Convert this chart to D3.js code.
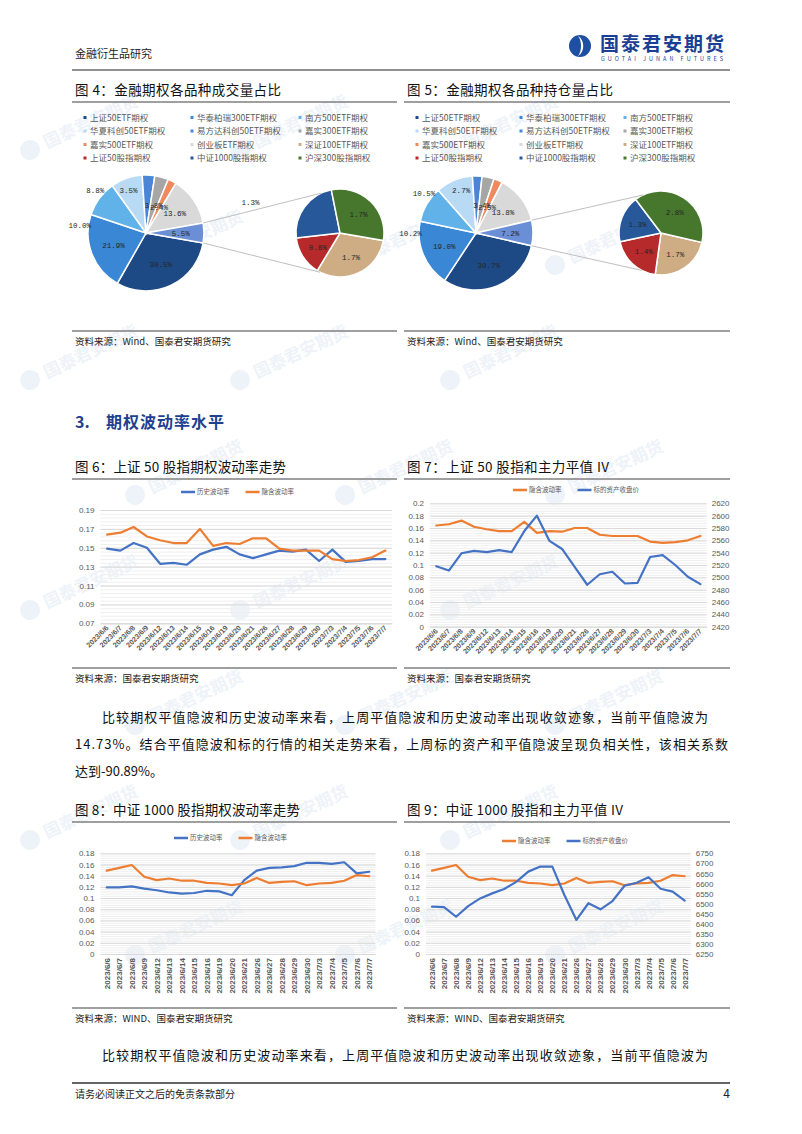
<!DOCTYPE html>
<html>
<head>
<meta charset="utf-8">
<style>
  body { margin: 0; background: #fff; }
  text { font-family: "Noto Sans CJK SC", "Liberation Sans", sans-serif; }
  .tick text { font-family: "Liberation Sans", "Noto Sans CJK SC", sans-serif; fill: #595959; }
  .mono { font-family: "Liberation Mono", "DejaVu Sans Mono", monospace; }
</style>
</head>
<body>
<svg id="page"></svg>
<script src="https://d3js.org/d3.v7.min.js"></script>
<script>

// ---- data ----
var pieNames = ["上证50ETF期权", "华泰柏瑞300ETF期权", "南方500ETF期权",
  "华夏科创50ETF期权", "易方达科创50ETF期权", "嘉实300ETF期权",
  "嘉实500ETF期权", "创业板ETF期权", "深证100ETF期权",
  "上证50股指期权", "中证1000股指期权", "沪深300股指期权"];
var volumeShare = [30.5, 21.9, 10.0, 8.8, 3.5, 3.8, 2.4, 13.6, 1.7, 0.8, 1.3, 1.7];
var holdShare   = [30.7, 19.0, 10.2, 10.5, 2.7, 3.4, 2.5, 13.8, 1.7, 1.4, 1.3, 2.8];

var dates = ["2023/6/6", "2023/6/7", "2023/6/8", "2023/6/9", "2023/6/12", "2023/6/13",
  "2023/6/14", "2023/6/15", "2023/6/16", "2023/6/19", "2023/6/20", "2023/6/21",
  "2023/6/26", "2023/6/27", "2023/6/28", "2023/6/29", "2023/6/30", "2023/7/3",
  "2023/7/4", "2023/7/5", "2023/7/6", "2023/7/7"];

var sz50Hv = [0.149, 0.147, 0.155, 0.150, 0.133, 0.134, 0.132, 0.143, 0.148, 0.151, 0.143,
  0.139, 0.143, 0.147, 0.146, 0.148, 0.136, 0.148, 0.135, 0.136, 0.138, 0.138];
var sz50Iv = [0.164, 0.166, 0.172, 0.162, 0.158, 0.155, 0.155, 0.170, 0.152, 0.155, 0.154,
  0.160, 0.160, 0.149, 0.147, 0.147, 0.147, 0.138, 0.136, 0.137, 0.140, 0.147];
var sz50Close = [2518, 2511, 2539, 2543, 2541, 2544, 2541, 2575, 2600, 2559, 2546,
  2517, 2488, 2505, 2509, 2490, 2491, 2533, 2536, 2520, 2501, 2489];

var zz1000Hv = [0.119, 0.119, 0.121, 0.117, 0.114, 0.110, 0.108, 0.109, 0.113, 0.112, 0.105,
  0.132, 0.149, 0.154, 0.155, 0.157, 0.163, 0.163, 0.161, 0.164, 0.144, 0.147];
var zz1000Iv = [0.149, 0.154, 0.159, 0.138, 0.132, 0.135, 0.131, 0.131, 0.127, 0.126, 0.123,
  0.126, 0.136, 0.127, 0.129, 0.130, 0.123, 0.126, 0.127, 0.131, 0.141, 0.139];
var zz1000Close = [6485, 6483, 6435, 6488, 6526, 6551, 6573, 6608, 6659, 6684, 6684,
  6543, 6419, 6502, 6472, 6513, 6589, 6604, 6631, 6574, 6560, 6515];

var ivTicks = [0, 0.02, 0.04, 0.06, 0.08, 0.1, 0.12, 0.14, 0.16, 0.18];

// ---- styles ----
var pieColors = ["#1d4a85", "#3a87d5", "#62b2ea", "#b9daf4", "#4a85d6", "#a6a6a6",
  "#ef8a5e", "#d9d9d9", "#cfad84", "#b72a2c", "#27599a", "#46772c"];
var otherColor = "#6b8fd6";
var blue = "#4472c4", orange = "#ed7d31";

var svg = d3.select("#page").attr("width", 802).attr("height", 1134);

// faint watermark pattern, kept inside the page
var wm = svg.append("g").attr("fill", "#eef3f9");
d3.range(0, 9).forEach(function(r) {
  d3.range(0, 4).forEach(function(c) {
    var x = 30 + c * 210 + (r % 2) * 105, y = 150 + r * 115;
    if (x > 640 || y > 1040) return;
    var g = wm.append("g").attr("transform", "translate(" + x + "," + y + ") rotate(-25)");
    g.append("circle").attr("r", 10);
    g.append("text").attr("x", 16).attr("y", 6).attr("font-size", 17).attr("font-weight", 700).text("国泰君安期货");
  });
});

// ---- header / footer ----
svg.append("text").attr("x", 75).attr("y", 58).attr("font-size", 11).attr("fill", "#222").text("金融衍生品研究");
svg.append("line").attr("x1", 72).attr("x2", 730).attr("y1", 70).attr("y2", 70).attr("stroke", "#222").attr("stroke-width", 1.2);
var logo = svg.append("g").attr("transform", "translate(580,46)");
logo.append("circle").attr("r", 11).attr("fill", "#1f4fa3");
logo.append("path").attr("d", "M-2,-10 C5,-6 5,6 -2,10 C2,5 2,-5 -2,-10Z").attr("fill", "#fff");
logo.append("text").attr("x", 20).attr("y", 5).attr("font-size", 19).attr("font-weight", 700).attr("fill", "#1b3f95")
  .attr("textLength", 124).attr("lengthAdjust", "spacing").text("国泰君安期货");
logo.append("text").attr("x", 21).attr("y", 15).attr("font-size", 5.5).attr("fill", "#1b3f95").attr("textLength", 122).text("GUOTAI JUNAN FUTURES");

svg.append("line").attr("x1", 72).attr("x2", 730).attr("y1", 1083).attr("y2", 1083).attr("stroke", "#333").attr("stroke-width", 1.5);
svg.append("text").attr("x", 75).attr("y", 1098).attr("font-size", 10).attr("fill", "#222").text("请务必阅读正文之后的免责条款部分");
svg.append("text").attr("x", 730).attr("y", 1098).attr("text-anchor", "end").attr("font-size", 12).attr("fill", "#222").text("4");

// ---- helpers ----
function figTitle(x0, x1, y, label, width) {
  svg.append("text").attr("x", x0 + 3).attr("y", y).attr("font-size", 13.5).attr("fill", "#111")
    .attr("textLength", width).attr("lengthAdjust", "spacing").text(label);
  svg.append("line").attr("x1", x0).attr("x2", x1).attr("y1", y + 7).attr("y2", y + 7)
    .attr("stroke", "#7f7f7f").attr("stroke-width", 1.3);
}
function figSource(x0, x1, y, label) {
  svg.append("line").attr("x1", x0).attr("x2", x1).attr("y1", y).attr("y2", y)
    .attr("stroke", "#7f7f7f").attr("stroke-width", 1.3);
  svg.append("text").attr("x", x0 + 3).attr("y", y + 14).attr("font-size", 9.5).attr("fill", "#222").text(label);
}

function pieOfPie(o) {
  var g = svg.append("g");
  var rad = Math.PI / 180;

  // legend 3 x 4
  var leg = g.selectAll(".leg").data(pieNames).join("g")
    .attr("transform", function(d, i) {
      return "translate(" + (o.x0 + o.legendCols[i % 3]) + "," + (117.5 + Math.floor(i / 3) * 13.5) + ")";
    });
  leg.append("rect").attr("x", -1.5).attr("y", -1.5).attr("width", 3).attr("height", 3)
    .attr("fill", function(d, i) { return pieColors[i]; });
  leg.append("text").attr("x", 5).attr("y", 3.2).attr("font-size", 8.5).attr("fill", "#595959")
    .text(function(d) { return d; });

  var sub = o.values.slice(8);
  var other = d3.sum(sub);
  var mainData = o.values.slice(0, 8).map(function(v, i) { return { v: v, c: pieColors[i], i: i }; })
    .concat([{ v: other, c: otherColor, i: 99 }]);
  var start = (90 + other * 1.8) * rad;
  var pie = d3.pie().sort(null).value(function(d) { return d.v; })
    .startAngle(start).endAngle(start + 2 * Math.PI);

  var arcs = pie(mainData);
  var arc = d3.arc().innerRadius(0).outerRadius(o.r);
  var mg = g.append("g").attr("transform", "translate(" + o.cx + "," + o.cy + ")");
  mg.selectAll("path").data(arcs).join("path")
    .attr("d", arc).attr("fill", function(d) { return d.data.c; })
    .attr("stroke", "#fff").attr("stroke-width", 1.5);

  function pos(a, r) { return [r * Math.sin(a), -r * Math.cos(a)]; }
  mg.selectAll("text").data(arcs).join("text")
    .attr("class", "mono").attr("font-size", 7.5).attr("fill", "#262626").attr("text-anchor", "middle")
    .attr("transform", function(d) {
      var mid = (d.startAngle + d.endAngle) / 2, p;
      if (d.data.i === 4) p = pos(start + 238 * rad, o.r * 0.8);
      else if (d.data.v >= 12 || d.data.i === 99) p = pos(mid, o.r * 0.6);
      else if (d.data.v >= 5) p = pos(mid - 30 * rad, o.r * 1.15);
      else p = pos(mid, o.r * 0.5);
      return "translate(" + p[0] + "," + (p[1] + 3) + ")";
    })
    .text(function(d) { return d.data.v.toFixed(1) + "%"; });

  // secondary pie
  var sg = g.append("g").attr("transform", "translate(" + o.sx + "," + o.cy + ")");
  var sarcs = d3.pie().sort(null).startAngle(start).endAngle(start + 2 * Math.PI)(sub);
  var sarc = d3.arc().innerRadius(0).outerRadius(o.sr);
  sg.selectAll("path").data(sarcs).join("path")
    .attr("d", sarc).attr("fill", function(d, i) { return pieColors[8 + i]; })
    .attr("stroke", "#fff").attr("stroke-width", 1.5);
  sg.selectAll("text").data(sarcs).join("text")
    .attr("class", "mono").attr("font-size", 7.5).attr("fill", "#262626").attr("text-anchor", "middle")
    .attr("transform", function(d, i) {
      var mid = (d.startAngle + d.endAngle) / 2;
      var p = (i === o.outsideSub) ? pos(289 * rad, o.sr * 2.15) : pos(mid, o.sr * 0.6);
      return "translate(" + p[0] + "," + (p[1] + 3) + ")";
    })
    .text(function(d) { return d.data.toFixed(1) + "%"; });

  // connector lines
  var a1 = start - other * 3.6 * rad, a2 = start;
  [[a1, 335 * rad], [a2, 207 * rad]].forEach(function(pr) {
    var p = pos(pr[0], o.r), q = pos(pr[1], o.sr);
    g.append("line")
      .attr("x1", o.cx + p[0]).attr("y1", o.cy + p[1])
      .attr("x2", o.sx + q[0]).attr("y2", o.cy + q[1])
      .attr("stroke", "#bfbfbf").attr("stroke-width", 1);
  });
}

function lineChart(o) {
  var g = svg.append("g");
  var x = d3.scaleBand().domain(dates).range([o.left, o.right]);
  var y = d3.scaleLinear().domain(o.yDomain).range([o.bottom, o.top]);
  var cx = function(d, i) { return x(dates[i]) + x.bandwidth() / 2; };

  // minor + major gridlines
  g.append("g").attr("transform", "translate(" + o.left + ",0)")
    .call(d3.axisLeft(y).tickValues(d3.range(o.yDomain[0], o.yDomain[1] + 1e-9, o.minor))
      .tickSize(-(o.right - o.left)).tickFormat(""))
    .call(function(s) { s.select(".domain").remove(); s.selectAll("line").attr("stroke", "#efefef"); });
  g.append("g").attr("transform", "translate(" + o.left + ",0)")
    .call(d3.axisLeft(y).tickValues(o.yTicks).tickSize(-(o.right - o.left)).tickFormat(""))
    .call(function(s) { s.select(".domain").remove(); s.selectAll("line").attr("stroke", "#d9d9d9"); });

  // left axis labels
  g.append("g").attr("transform", "translate(" + o.left + ",0)")
    .call(d3.axisLeft(y).tickValues(o.yTicks).tickSize(0).tickPadding(6).tickFormat(o.yFormat))
    .call(function(s) { s.select(".domain").remove(); s.selectAll("text").attr("font-size", 8); });

  var y2 = null;
  if (o.y2Domain) {
    y2 = d3.scaleLinear().domain(o.y2Domain).range([o.bottom, o.top]);
    g.append("g").attr("transform", "translate(" + o.right + ",0)")
      .call(d3.axisRight(y2).tickValues(o.y2Ticks).tickSize(0).tickPadding(5).tickFormat(d3.format("d")))
      .call(function(s) { s.select(".domain").remove(); s.selectAll("text").attr("font-size", 8); });
  }

  // x axis
  var xa = g.append("g").attr("transform", "translate(0," + o.bottom + ")")
    .call(d3.axisBottom(x).tickSize(0).tickPadding(0))
    .call(function(s) { s.select(".domain").attr("stroke", "#d9d9d9"); });
  xa.selectAll("text").attr("font-size", o.xFont).attr("font-weight", 700)
    .attr("text-anchor", "end").attr("dy", null)
    .attr("transform", o.xRotate === -90 ? "translate(3,4) rotate(-90)" : "translate(2,5) rotate(-45)");

  // series
  o.series.forEach(function(s) {
    var sc = s.right ? y2 : y;
    g.append("path").datum(s.values)
      .attr("fill", "none").attr("stroke", s.color).attr("stroke-width", 2.2)
      .attr("stroke-linejoin", "round").attr("stroke-linecap", "round")
      .attr("d", d3.line().x(cx).y(function(d) { return sc(d); }));
  });

  // legend
  var lx = o.legendX;
  o.series.forEach(function(s) {
    g.append("line").attr("x1", lx).attr("x2", lx + 14).attr("y1", o.legendY).attr("y2", o.legendY)
      .attr("stroke", s.color).attr("stroke-width", 2.5);
    var t = g.append("text").attr("x", lx + 16).attr("y", o.legendY + 2.3).attr("font-size", 6.5)
      .attr("fill", "#595959").text(s.name);
    lx += 16 + t.node().getComputedTextLength() + 16;
  });
}

// ---- figure 4 & 5 ----
figTitle(72, 397, 95, "图 4：金融期权各品种成交量占比", 206);
figTitle(404, 730, 95, "图 5：金融期权各品种持仓量占比", 206);
pieOfPie({ x0: 72, legendCols: [13, 120, 228], values: volumeShare,
  cx: 146, cy: 233, r: 58, sx: 340, sr: 44, outsideSub: 2 });
pieOfPie({ x0: 404, legendCols: [13, 117, 221], values: holdShare,
  cx: 476, cy: 233, r: 57, sx: 661, sr: 42, outsideSub: -1 });
figSource(72, 397, 331, "资料来源：Wind、国泰君安期货研究");
figSource(404, 730, 331, "资料来源：Wind、国泰君安期货研究");

// ---- section heading ----
svg.append("text").attr("x", 75).attr("y", 428).attr("font-size", 16).attr("font-weight", 700)
  .attr("fill", "#1f3f8f").text("3.");
svg.append("text").attr("x", 106).attr("y", 428).attr("font-size", 16).attr("font-weight", 700)
  .attr("fill", "#1f3f8f").attr("letter-spacing", 1).text("期权波动率水平");

// ---- figure 6 & 7 ----
figTitle(72, 397, 472, "图 6：上证 50 股指期权波动率走势", 211);
figTitle(404, 730, 472, "图 7：上证 50 股指和主力平值 IV", 202);
lineChart({ left: 100.5, right: 392, top: 510, bottom: 623.3,
  yDomain: [0.07, 0.19], yTicks: [0.07, 0.09, 0.11, 0.13, 0.15, 0.17, 0.19], minor: 0.004,
  yFormat: d3.format(".2f"), xFont: 7.2, xRotate: -45, legendX: 181, legendY: 492,
  series: [{ name: "历史波动率", color: blue, values: sz50Hv },
           { name: "隐含波动率", color: orange, values: sz50Iv }] });
lineChart({ left: 430, right: 706.7, top: 503.3, bottom: 626.7,
  yDomain: [0, 0.2], yTicks: ivTicks.concat([0.2]), minor: 0.004,
  yFormat: function(d) { return String(+d.toFixed(2)); },
  y2Domain: [2420, 2620], y2Ticks: d3.range(2420, 2621, 20),
  xFont: 7.2, xRotate: -45, legendX: 513, legendY: 490,
  series: [{ name: "隐含波动率", color: orange, values: sz50Iv },
           { name: "标的资产收盘价", color: blue, values: sz50Close, right: true }] });
figSource(72, 397, 668, "资料来源：国泰君安期货研究");
figSource(404, 730, 668, "资料来源：国泰君安期货研究");

// ---- paragraph ----
var para = [
  { x: 102, y: 722, w: 606, t: "比较期权平值隐波和历史波动率来看，上周平值隐波和历史波动率出现收敛迹象，当前平值隐波为" },
  { x: 75, y: 749, w: 653, t: "14.73%。结合平值隐波和标的行情的相关走势来看，上周标的资产和平值隐波呈现负相关性，该相关系数" },
  { x: 75, y: 776, w: 0, t: "达到-90.89%。" },
  { x: 102, y: 1060, w: 606, t: "比较期权平值隐波和历史波动率来看，上周平值隐波和历史波动率出现收敛迹象，当前平值隐波为" }
];
para.forEach(function(p) {
  var t = svg.append("text").attr("x", p.x).attr("y", p.y).attr("font-size", 13).attr("fill", "#111").text(p.t);
  if (p.w) t.attr("textLength", p.w).attr("lengthAdjust", "spacing");
});

// ---- figure 8 & 9 ----
figTitle(72, 397, 815, "图 8：中证 1000 股指期权波动率走势", 225);
figTitle(404, 730, 815, "图 9：中证 1000 股指和主力平值 IV", 216);
lineChart({ left: 100.5, right: 375.5, top: 853.3, bottom: 954,
  yDomain: [0, 0.18], yTicks: ivTicks, minor: 0.004,
  yFormat: function(d) { return String(+d.toFixed(2)); },
  xFont: 8, xRotate: -90, legendX: 174, legendY: 838,
  series: [{ name: "历史波动率", color: blue, values: zz1000Hv },
           { name: "隐含波动率", color: orange, values: zz1000Iv }] });
lineChart({ left: 426, right: 690.7, top: 853.3, bottom: 954,
  yDomain: [0, 0.18], yTicks: ivTicks, minor: 0.004,
  yFormat: function(d) { return String(+d.toFixed(2)); },
  y2Domain: [6250, 6750], y2Ticks: d3.range(6250, 6751, 50),
  xFont: 8, xRotate: -90, legendX: 502, legendY: 841,
  series: [{ name: "隐含波动率", color: orange, values: zz1000Iv },
           { name: "标的资产收盘价", color: blue, values: zz1000Close, right: true }] });
figSource(72, 397, 1008, "资料来源：WIND、国泰君安期货研究");
figSource(404, 730, 1008, "资料来源：WIND、国泰君安期货研究");

</script>
</body>
</html>
